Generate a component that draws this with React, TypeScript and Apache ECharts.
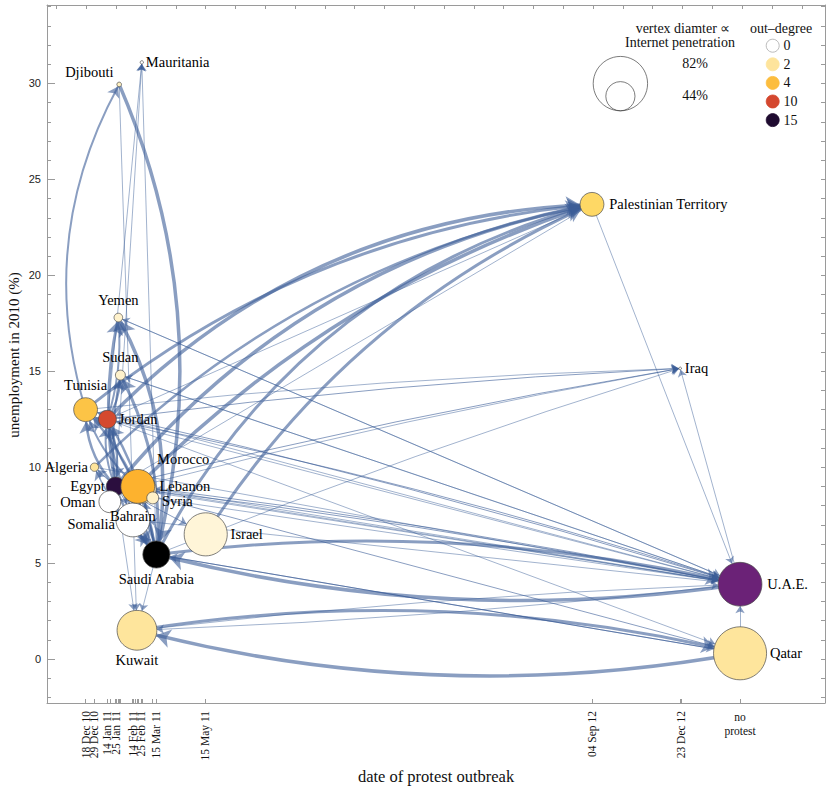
import React, { useEffect, useRef } from "react";
import * as echarts from "echarts";

// ---------- data ----------
// x: days since 18 Dec 2010 (outbreak of protests), 809 = "no protest"
const countries = [
  "Tunisia", "Algeria", "Jordan", "Lebanon", "Egypt", "Oman", "Yemen", "Djibouti", "Sudan",
  "Somalia", "Bahrain", "Kuwait", "Morocco", "Mauritania", "Syria", "Saudi Arabia", "Israel",
  "Palestinian Territory", "Iraq", "U.A.E.", "Qatar",
];
const outbreakDay = [0, 11, 27, 70, 37, 30, 40.5, 41.5, 43, 61.4, 58.5, 63.5, 64.5, 69.5, 83, 87.5, 148.5, 626, 735, 809, 809];
const unemployment = [13.0, 10.0, 12.5, 8.85, 9.0, 8.2, 17.8, 29.95, 14.8, 7.0, 7.25, 1.5, 9.0, 31.1, 8.4, 5.45, 6.5, 23.7, 15.15, 3.9, 0.3];
const internetPenetration = [36, 12.5, 27, 42, 28, 33, 13, 7, 15, 3, 51, 60, 51, 5, 18, 41, 65, 36, 4, 66, 80];
const nodeColors = [
  "#fcc446", "#fee49a", "#d4492f", "#fff0c8", "#2b0e3e", "#ffffff", "#fff2cc", "#fff0c0", "#fff2cc",
  "#ffffff", "#ffffff", "#fee59c", "#fdb22e", "#ffffff", "#fff1c8", "#000000", "#fff5d8",
  "#fed865", "#ffffff", "#6b2277", "#fee59c",
];
// label placement: [position, dx, dy]
const labelPlacement: [string, number, number][] = [
  ["top", 0, 0], ["left", 3, 0], ["right", -3, 0], ["right", -2, -3], ["left", 4, 0], ["left", 2, 0],
  ["top", 0, 0], ["left", 2, -12], ["top", 0, 0], ["left", -14, -1], ["inside", 0, -4], ["bottom", 0, -3],
  ["right", -3, -27], ["right", -3, 0], ["right", -2, 3], ["bottom", 0, -2], ["right", -2, 0],
  ["right", 0, 0], ["right", -2, 0], ["right", 0, 0], ["right", -2, 0],
];

// edges: [source, target, weight (line width), curveness]
const edges: [string, string, number, number][] = [
  ["Egypt", "Palestinian Territory", 3.5, 0.18],
  ["Egypt", "U.A.E.", 1, 0.02],
  ["Egypt", "Saudi Arabia", 2.5, -0.1],
  ["Egypt", "Tunisia", 2.5, 0.2],
  ["Egypt", "Jordan", 2, 0.15],
  ["Egypt", "Yemen", 3, 0.1],
  ["Egypt", "Sudan", 2, 0.08],
  ["Egypt", "Iraq", 1, 0.02],
  ["Egypt", "Kuwait", 0.8, 0],
  ["Egypt", "Qatar", 1, 0],
  ["Egypt", "Algeria", 1.2, 0],
  ["Egypt", "Mauritania", 0.8, 0],
  ["Egypt", "Israel", 1, 0],
  ["Egypt", "Oman", 1, 0],
  ["Egypt", "Bahrain", 1, 0.1],
  ["Saudi Arabia", "Palestinian Territory", 3, 0.22],
  ["Saudi Arabia", "U.A.E.", 3, 0.09],
  ["Saudi Arabia", "Tunisia", 2.5, -0.15],
  ["Saudi Arabia", "Jordan", 2.5, -0.1],
  ["Saudi Arabia", "Egypt", 2, -0.2],
  ["Saudi Arabia", "Yemen", 3.5, -0.18],
  ["Saudi Arabia", "Sudan", 3, -0.15],
  ["Saudi Arabia", "Mauritania", 0.8, 0],
  ["Saudi Arabia", "Iraq", 0.8, 0.02],
  ["Saudi Arabia", "Qatar", 1, 0],
  ["Saudi Arabia", "Kuwait", 0.8, 0],
  ["Saudi Arabia", "Oman", 1.5, 0],
  ["Saudi Arabia", "Bahrain", 2, 0.1],
  ["Saudi Arabia", "Morocco", 2, 0.1],
  ["Saudi Arabia", "Algeria", 1.5, 0.1],
  ["Saudi Arabia", "Lebanon", 1, 0],
  ["U.A.E.", "Saudi Arabia", 3.5, 0.1],
  ["U.A.E.", "Iraq", 0.8, 0],
  ["U.A.E.", "Kuwait", 0.8, 0.02],
  ["Qatar", "U.A.E.", 0.8, 0],
  ["U.A.E.", "Tunisia", 0.8, 0],
  ["U.A.E.", "Jordan", 0.8, 0],
  ["U.A.E.", "Egypt", 0.8, 0],
  ["U.A.E.", "Sudan", 0.8, 0],
  ["U.A.E.", "Yemen", 0.8, 0],
  ["U.A.E.", "Morocco", 0.8, 0],
  ["U.A.E.", "Bahrain", 0.8, 0],
  ["Jordan", "Palestinian Territory", 3.5, 0.2],
  ["Jordan", "U.A.E.", 1, 0.03],
  ["Jordan", "Iraq", 1, 0.02],
  ["Jordan", "Saudi Arabia", 2.5, -0.12],
  ["Jordan", "Tunisia", 2, 0.3],
  ["Jordan", "Egypt", 2, 0.15],
  ["Jordan", "Yemen", 2, -0.1],
  ["Jordan", "Sudan", 2, -0.15],
  ["Jordan", "Mauritania", 0.8, 0],
  ["Jordan", "Qatar", 0.8, 0],
  ["Tunisia", "Djibouti", 2, 0.21],
  ["Tunisia", "Palestinian Territory", 3, 0.15],
  ["Tunisia", "Iraq", 0.8, 0.02],
  ["Tunisia", "U.A.E.", 1, 0.02],
  ["Morocco", "Palestinian Territory", 3.5, 0.12],
  ["Morocco", "U.A.E.", 1, 0.02],
  ["Morocco", "Iraq", 0.8, 0.02],
  ["Morocco", "Jordan", 2, 0.1],
  ["Morocco", "Tunisia", 2, 0.15],
  ["Palestinian Territory", "U.A.E.", 0.8, 0],
  ["Palestinian Territory", "Jordan", 0.8, 0],
  ["Palestinian Territory", "Egypt", 0.8, 0],
  ["Kuwait", "Qatar", 3, 0.1],
  ["Kuwait", "U.A.E.", 0.8, 0.02],
  ["Qatar", "Kuwait", 3.5, 0.11],
  ["Qatar", "Saudi Arabia", 1, 0],
  ["Algeria", "Palestinian Territory", 2.5, 0.15],
  ["Algeria", "U.A.E.", 0.8, 0],
  ["Israel", "Palestinian Territory", 3, 0.15],
  ["Syria", "U.A.E.", 0.8, 0],
  ["Lebanon", "U.A.E.", 0.8, 0],
  ["Yemen", "U.A.E.", 0.8, 0],
  ["Sudan", "U.A.E.", 0.8, 0],
  ["Djibouti", "Saudi Arabia", 3.5, 0.17],
  ["Djibouti", "Kuwait", 0.8, 0],
];

// tick labels on the date axis
const dateTickDays = [0, 11, 27, 38, 58, 69, 87, 148, 626, 736];
const dateTickLabels = ["18 Dec 10", "29 Dec 10", "14 Jan 11", "25 Jan 11", "14 Feb 11", "25 Feb 11", "15 Mar 11", "15 May 11", "04 Sep 12", "23 Dec 12"];
const noProtestDay = 809;
const yTickValues = [0, 5, 10, 15, 20, 25, 30];

// legend
const legendPenetration = [82, 44];
const legendDegrees = ["0", "2", "4", "10", "15"];
const legendDegreeColors = ["#ffffff", "#fee49c", "#fcbd3e", "#d4472f", "#1f0b30"];

// ---------- scales ----------
const X_MIN = -47.7, X_MAX = 914;
const Y_MIN = -2.29, Y_MAX = 34.09;
const PX_PER_PERCENT = 0.663; // vertex diameter per % of internet penetration

const SERIF = "Liberation Serif";
const SANS = "Liberation Sans";
const AXIS_GREY = "#9a9a9a";

const intRange = (a: number, b: number) => {
  const r: number[] = [];
  for (let i = a; i <= b; i++) r.push(i);
  return r;
};

function buildOption() {
  const nodes = countries.map((name, i) => {
    const [pos, dx, dy] = labelPlacement[i];
    return {
      name,
      value: [outbreakDay[i], unemployment[i]],
      symbolSize: internetPenetration[i] * PX_PER_PERCENT,
      itemStyle: { color: nodeColors[i], borderColor: "#4a4a4a", borderWidth: 0.7 },
      label: {
        show: true,
        position: pos,
        distance: 5,
        offset: [dx, dy],
        fontFamily: SERIF,
        fontSize: 14.5,
        color: "#000",
      },
    };
  });
  const links = edges.map(([s, t, w, c]) => ({
    source: s,
    target: t,
    symbol: ["none", "arrow"],
    symbolSize: [0, 5 + w * 2.6],
    lineStyle: { width: w, curveness: c },
  }));

  const tickDays = Array.from(new Set([...outbreakDay.filter((d) => d < 800), ...dateTickDays]));
  const labelMap: Record<number, string> = {};
  dateTickDays.forEach((d, i) => (labelMap[d] = dateTickLabels[i]));
  // padding values at the ends so that no real label is treated as the min/max label
  const labelValues = [X_MIN + 1, ...dateTickDays, X_MAX - 1];

  const topTicks = intRange(0, 25);
  const legendX = 620.4;
  const lineNoZero = { onZero: false, show: true, lineStyle: { color: AXIS_GREY, width: 1 } };

  return {
    animation: false,
    grid: [
      { left: 47, top: 5, right: 5, bottom: 88, containLabel: false },
      { left: 47, top: 5, right: 5, bottom: 88, containLabel: false },
    ],
    xAxis: [
      {
        type: "value", gridIndex: 0, position: "bottom", min: X_MIN, max: X_MAX,
        axisLine: lineNoZero,
        axisTick: { show: true, inside: true, length: 4, customValues: tickDays, lineStyle: { color: AXIS_GREY } },
        axisLabel: {
          show: true, customValues: labelValues, rotate: 90, margin: 8,
          hideOverlap: false,
          formatter: (v: number) => labelMap[v] ?? "",
          fontFamily: SERIF, fontSize: 11.5, color: "#111",
        },
        splitLine: { show: false },
      },
      {
        type: "value", gridIndex: 0, position: "top", min: -0.3255, max: 25.78,
        axisLine: lineNoZero,
        axisTick: { show: true, inside: true, length: 4, customValues: topTicks, lineStyle: { color: AXIS_GREY } },
        axisLabel: { show: false },
        splitLine: { show: false },
      },
      {
        type: "value", gridIndex: 1, position: "bottom", min: X_MIN, max: X_MAX,
        axisLine: { show: false, onZero: false },
        axisTick: { show: true, inside: true, length: 4, customValues: [noProtestDay], lineStyle: { color: AXIS_GREY } },
        axisLabel: {
          show: true, customValues: [noProtestDay], margin: 7,
          showMinLabel: true, showMaxLabel: true,
          formatter: () => "no\nprotest",
          fontFamily: SERIF, fontSize: 11.5, lineHeight: 14, color: "#111",
        },
        splitLine: { show: false },
      },
    ],
    yAxis: [
      {
        type: "value", gridIndex: 0, position: "left", min: Y_MIN, max: Y_MAX,
        axisLine: lineNoZero,
        axisTick: { show: true, inside: true, length: 8, customValues: yTickValues, lineStyle: { color: AXIS_GREY } },
        axisLabel: {
          show: true, customValues: yTickValues, margin: 6, showMinLabel: true, showMaxLabel: true,
          fontFamily: SANS, fontSize: 11, color: "#222",
        },
        splitLine: { show: false },
      },
      {
        type: "value", gridIndex: 0, position: "right", min: Y_MIN, max: Y_MAX,
        axisLine: lineNoZero,
        axisTick: { show: true, inside: true, length: 4, customValues: intRange(-2, 34), lineStyle: { color: AXIS_GREY } },
        axisLabel: { show: false },
        splitLine: { show: false },
      },
      {
        type: "value", gridIndex: 1, position: "left", min: Y_MIN, max: Y_MAX,
        axisLine: { show: false, onZero: false },
        axisTick: { show: true, inside: true, length: 4, customValues: intRange(-2, 34), lineStyle: { color: AXIS_GREY } },
        axisLabel: { show: false },
        splitLine: { show: false },
      },
    ],
    series: [
      {
        type: "graph",
        coordinateSystem: "cartesian2d",
        xAxisIndex: 0,
        yAxisIndex: 0,
        layout: "none",
        roam: false,
        edgeSymbol: ["none", "arrow"],
        data: nodes,
        links,
        lineStyle: { color: "#3c5e98", opacity: 0.6 },
        emphasis: { disabled: true },
        z: 3,
      },
    ],
    graphic: [
      {
        type: "text", x: 13.5, y: 355, rotation: Math.PI / 2,
        style: { text: "unemployment in 2010 (%)", font: `15px ${SERIF}`, fill: "#111", align: "center", verticalAlign: "middle" },
      },
      {
        type: "text", x: 436, y: 776,
        style: { text: "date of protest outbreak", font: `16.5px ${SERIF}`, fill: "#111", align: "center", verticalAlign: "middle" },
      },
      {
        type: "text", x: 683, y: 28,
        style: { text: "vertex diamter \u221d", font: `14px ${SERIF}`, fill: "#111", align: "center", verticalAlign: "middle" },
      },
      {
        type: "text", x: 680, y: 42,
        style: { text: "Internet penetration", font: `14px ${SERIF}`, fill: "#111", align: "center", verticalAlign: "middle" },
      },
      ...legendPenetration.map((p) => {
        const r = (p * PX_PER_PERCENT) / 2;
        return {
          type: "circle",
          shape: { cx: legendX, cy: 110.8 - r, r },
          style: { fill: "none", stroke: "#444", lineWidth: 0.7 },
        };
      }),
      ...legendPenetration.map((p, i) => ({
        type: "text", x: 695, y: i === 0 ? 63.5 : 95.5,
        style: { text: `${p}%`, font: `14px ${SERIF}`, fill: "#111", align: "center", verticalAlign: "middle" },
      })),
      {
        type: "text", x: 781, y: 28,
        style: { text: "out\u2013degree", font: `14px ${SERIF}`, fill: "#111", align: "center", verticalAlign: "middle" },
      },
      ...legendDegrees.map((d, i) => ({
        type: "circle",
        shape: { cx: 772.7, cy: 45.7 + i * 18.6, r: 6.5 },
        style: { fill: legendDegreeColors[i], stroke: i === 0 ? "#aaa" : legendDegreeColors[i], lineWidth: 0.8 },
      })),
      ...legendDegrees.map((d, i) => ({
        type: "text", x: 783.5, y: 45.7 + i * 18.6,
        style: { text: d, font: `14px ${SERIF}`, fill: "#111", align: "left", verticalAlign: "middle" },
      })),
    ],
  };
}

export default function App() {
  const ref = useRef<HTMLDivElement>(null);
  useEffect(() => {
    if (!ref.current) return;
    const chart = echarts.init(ref.current, null, { renderer: "svg" });
    chart.setOption(buildOption() as any);
    return () => chart.dispose();
  }, []);
  return (
    <div
      ref={ref}
      style={{ position: "fixed", left: 0, top: 0, width: 830, height: 791, background: "#fff" }}
    />
  );
}
